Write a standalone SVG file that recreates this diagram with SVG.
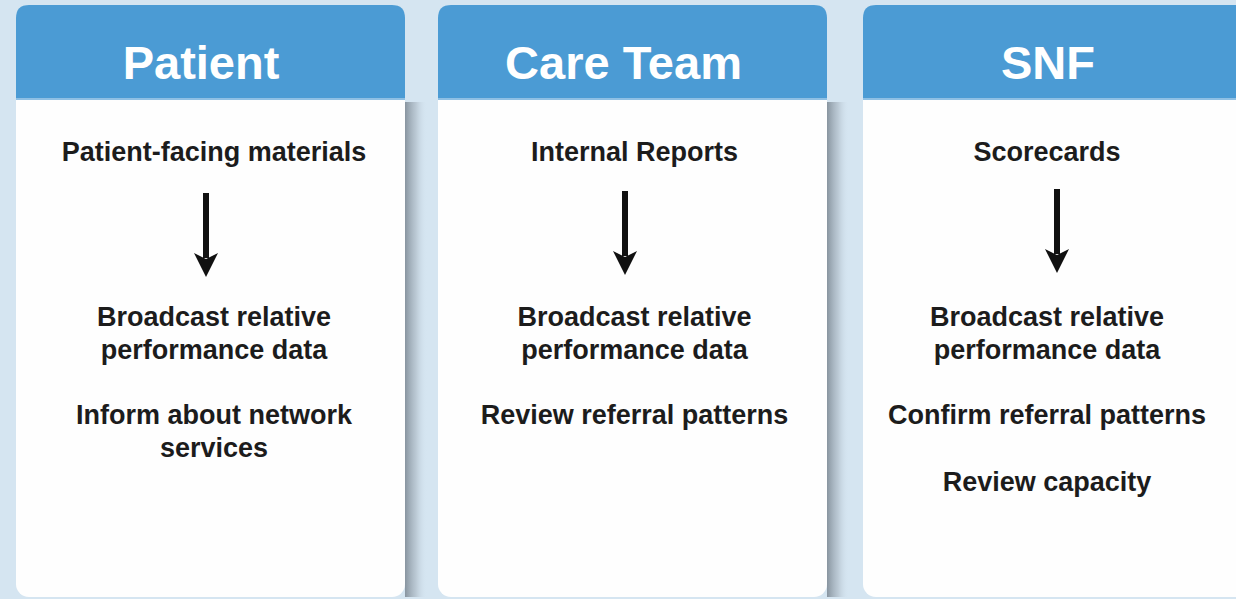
<svg xmlns="http://www.w3.org/2000/svg" width="1236" height="599" viewBox="0 0 1236 599">
<defs>
<style>
.hdr{fill:#4b9bd4}
.body{fill:#fefefe}
.ht{font-family:"Liberation Sans",Arial,sans-serif;font-weight:bold;font-size:47px;fill:#ffffff;text-anchor:middle}
.bt{font-family:"Liberation Sans",Arial,sans-serif;font-weight:bold;font-size:27px;fill:#1c1c1c;text-anchor:middle}
.shaft{stroke:#111;stroke-width:6;fill:none}
.head{fill:#111}
</style>
<linearGradient id="sh" x1="0" y1="0" x2="1" y2="0">
<stop offset="0" stop-color="#7f8b96" stop-opacity="0.9"/>
<stop offset="0.5" stop-color="#a9b6c1" stop-opacity="0.6"/>
<stop offset="1" stop-color="#d5e5f1" stop-opacity="0"/>
</linearGradient>
</defs>
<rect width="1236" height="599" fill="#d5e5f1"/>

<g id="patient">
<rect x="405" y="102" width="22" height="495" fill="url(#sh)"/>
<rect x="16" y="5" width="389" height="592" rx="13" class="body"/>
<path d="M16,99 V18 Q16,5 29,5 H392 Q405,5 405,18 V99 Z" class="hdr"/>
<rect x="16" y="98" width="389" height="2" fill="#8fc0e4"/>
<text x="201" y="79" class="ht">Patient</text>
<text x="214" y="161" class="bt">Patient-facing materials</text>
<text x="214" y="326" class="bt">Broadcast relative</text>
<text x="214" y="359" class="bt">performance data</text>
<text x="214" y="424" class="bt">Inform about network</text>
<text x="214" y="457" class="bt">services</text>
</g>

<g id="care-team">
<rect x="827" y="102" width="22" height="495" fill="url(#sh)"/>
<rect x="438" y="5" width="389" height="592" rx="13" class="body"/>
<path d="M438,99 V18 Q438,5 451,5 H814 Q827,5 827,18 V99 Z" class="hdr"/>
<rect x="438" y="98" width="389" height="2" fill="#8fc0e4"/>
<text x="623.5" y="79" class="ht">Care Team</text>
<text x="634.5" y="161" class="bt">Internal Reports</text>
<text x="634.5" y="326" class="bt">Broadcast relative</text>
<text x="634.5" y="359" class="bt">performance data</text>
<text x="634.5" y="424" class="bt">Review referral patterns</text>
</g>

<g id="snf">
<rect x="863" y="5" width="400" height="592" rx="13" class="body"/>
<path d="M863,99 V18 Q863,5 876,5 H1250 Q1263,5 1263,18 V99 Z" class="hdr"/>
<rect x="863" y="98" width="400" height="2" fill="#8fc0e4"/>
<text x="1048" y="79" class="ht">SNF</text>
<text x="1047" y="161" class="bt">Scorecards</text>
<text x="1047" y="326" class="bt">Broadcast relative</text>
<text x="1047" y="359" class="bt">performance data</text>
<text x="1047" y="424" class="bt">Confirm referral patterns</text>
<text x="1047" y="491" class="bt">Review capacity</text>
</g>

<g id="connectors">
<line x1="206" y1="193" x2="206" y2="258" class="shaft"/>
<path d="M194,253 L206,259 L218,253 L206,277 Z" class="head"/>
<line x1="625" y1="191" x2="625" y2="256" class="shaft"/>
<path d="M613,251 L625,257 L637,251 L625,275 Z" class="head"/>
<line x1="1057" y1="189" x2="1057" y2="254" class="shaft"/>
<path d="M1045,249 L1057,255 L1069,249 L1057,273 Z" class="head"/>
</g>
</svg>
